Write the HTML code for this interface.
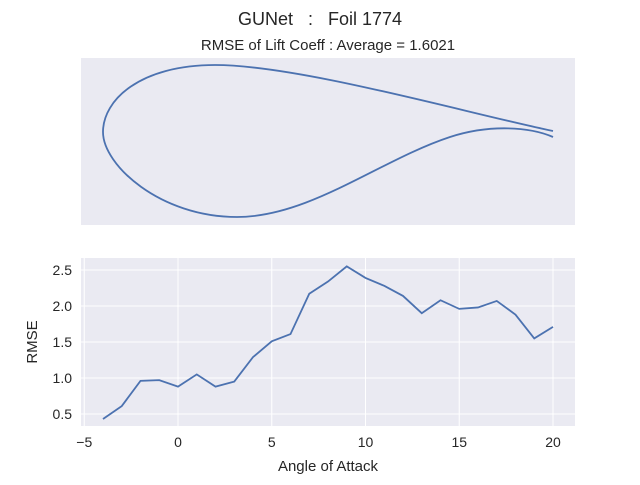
<!DOCTYPE html>
<html><head><meta charset="utf-8"><style>
body{margin:0;background:#fff}
svg text{font-family:"Liberation Sans","DejaVu Sans",sans-serif;fill:#262626;white-space:pre}
</style></head><body>
<svg id="c" width="640" height="480">
<text x="320" y="25" font-size="18" text-anchor="middle" xml:space="preserve">GUNet   :   Foil 1774</text>
<text x="328" y="50" font-size="15" text-anchor="middle">RMSE of Lift Coeff : Average = 1.6021</text>
<rect x="81" y="58" width="494" height="167" fill="#eaeaf2"/>
<path d="M553,131 C470,114 300,65 215,65 C140,65 103,100 103,132 C103,165 160,217 237,217 C310,217 380,160 450,137 C490,124 530,127 553,137" fill="none" stroke="#4c72b0" stroke-width="1.8"/>
<rect x="81" y="258" width="494" height="168" fill="#eaeaf2"/>
<g id="grid"></g>
<path id="line" fill="none" stroke="#4c72b0" stroke-width="1.8"/>
<g id="ticks"></g>
<text x="328" y="471" font-size="15" text-anchor="middle">Angle of Attack</text>
<text transform="translate(37,342) rotate(-90)" font-size="15" text-anchor="middle">RMSE</text>
</svg>
<script>
const angles=[-4,-3,-2,-1,0,1,2,3,4,5,6,7,8,9,10,11,12,13,14,15,16,17,18,19,20];
const rmse=[0.43,0.61,0.96,0.97,0.88,1.05,0.88,0.95,1.29,1.51,1.61,2.17,2.34,2.55,2.39,2.28,2.14,1.90,2.08,1.96,1.98,2.07,1.88,1.55,1.71];
const xTicks=[-5,0,5,10,15,20];
const yTicks=[0.5,1.0,1.5,2.0,2.5];
const X=v=>178+(v)*18.75, Y=v=>414-(v-0.5)*72;
const NS="http://www.w3.org/2000/svg";
const grid=document.getElementById('grid'), ticks=document.getElementById('ticks');
xTicks.forEach(t=>{
 const l=document.createElementNS(NS,'line');
 l.setAttribute('x1',X(t));l.setAttribute('x2',X(t));l.setAttribute('y1',258);l.setAttribute('y2',426);
 l.setAttribute('stroke','#fff');l.setAttribute('stroke-width','1');
 
 
 grid.appendChild(l);
 const tx=document.createElementNS(NS,'text');
 tx.setAttribute('x',X(t));tx.setAttribute('y',447);tx.setAttribute('font-size','14');tx.setAttribute('text-anchor','middle');
 tx.textContent=t<0?'\u2212'+(-t):t;
 
 
 ticks.appendChild(tx);
});
yTicks.forEach(t=>{
 const l=document.createElementNS(NS,'line');
 l.setAttribute('x1',81);l.setAttribute('x2',575);l.setAttribute('y1',Y(t));l.setAttribute('y2',Y(t));
 l.setAttribute('stroke','#fff');l.setAttribute('stroke-width','1');
 
 
 grid.appendChild(l);
 const tx=document.createElementNS(NS,'text');
 tx.setAttribute('x',72);tx.setAttribute('y',Y(t)+5);tx.setAttribute('font-size','14');tx.setAttribute('text-anchor','end');
 tx.textContent=t.toFixed(1);
 
 
 ticks.appendChild(tx);
});
document.getElementById('line').setAttribute('d',angles.map((a,i)=>(i?'L':'M')+X(a)+','+Y(rmse[i])).join(''));
</script>
</body></html>
